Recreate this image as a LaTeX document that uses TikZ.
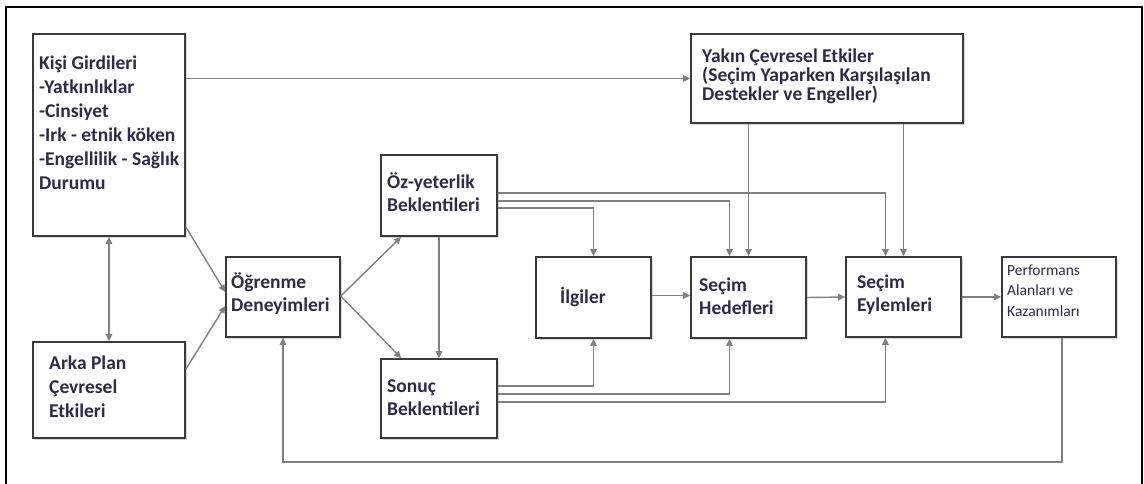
\documentclass[tikz,border=0pt]{standalone}
\usepackage{fontspec}
\setmainfont{Carlito}
\usetikzlibrary{arrows.meta,calc,shadows}
\definecolor{boxline}{HTML}{3A3A3A}
\definecolor{arrowc}{HTML}{808080}
\definecolor{textc}{HTML}{2E2A48}
% fixed line spacing, regardless of tall glyphs
\newcommand{\tightlines}{\setlength{\lineskiplimit}{-20pt}\setlength{\lineskip}{0pt}}
\newcommand{\boxfont}[1]{\fontsize{19.5}{#1}\selectfont\bfseries\tightlines}
\begin{document}
\begin{tikzpicture}[x=1pt,y=-1pt,
  box/.style={draw=boxline,line width=1.6pt,fill=white,inner sep=0pt,
    drop shadow={shadow xshift=2pt,shadow yshift=-2pt,opacity=0.25,fill=black!60}},
  % texts are placed by the baseline of their last line
  txt/.style={anchor=base west,align=left,inner sep=0pt,text=textc,
    font=\boxfont{24}},
  smalltxt/.style={anchor=base west,align=left,inner sep=0pt,text=textc,
    font=\fontsize{15.5}{20.5}\selectfont\tightlines},
  arr/.style={draw=arrowc,line width=1.4pt,-{Triangle[length=7pt,width=6.5pt]}},
  darr/.style={draw=arrowc,line width=1.4pt,{Triangle[length=7pt,width=6.5pt]}-{Triangle[length=7pt,width=6.5pt]}}]
\useasboundingbox (0,0) rectangle (1144,484);
\fill[white] (0,0) rectangle (1144,484);
% outer frame, open at the bottom
\draw[line width=2pt,black] (6,490) -- (6,7) -- (1142,7) -- (1142,490);

% boxes
\node[box,minimum width=152pt,minimum height=202pt] (kisi)  at (109,135) {};
\node[box,minimum width=152pt,minimum height=96pt]  (arka)  at (109,390) {};
\node[box,minimum width=114pt,minimum height=80pt]  (ogr)   at (283,297) {};
\node[box,minimum width=116pt,minimum height=81pt]  (oz)    at (439,195.5) {};
\node[box,minimum width=116pt,minimum height=79pt]  (sonuc) at (439,398.5) {};
\node[box,minimum width=115pt,minimum height=81pt]  (ilgi)  at (593.5,297.5) {};
\node[box,minimum width=115pt,minimum height=81pt]  (sh)    at (748.5,297.5) {};
\node[box,minimum width=115pt,minimum height=80pt]  (se)    at (903.5,297) {};
\node[box,minimum width=114pt,minimum height=80pt]  (perf)  at (1059,297) {};
\node[box,minimum width=272pt,minimum height=89pt]  (yakin) at (827,78.5) {};

% box texts
\node[txt] (kisiT) at (39,189.5) {Kişi Girdileri\\-Yatkınlıklar\\-Cinsiyet\\-Irk - etnik köken\\-Engellilik - Sağlık\\Durumu};
\node[txt] (arkaT) at (49,417.5) {Arka Plan\\Çevresel\\Etkileri};
\node[txt,font=\boxfont{23}] (ogrT) at (231,311.5) {Öğrenme\\Deneyimleri};
\node[txt,font=\boxfont{23}] (ozT) at (387,211.5) {Öz-yeterlik\\Beklentileri};
\node[txt,font=\boxfont{23}] (sonucT) at (387,415.5) {Sonuç\\Beklentileri};
\node[txt] (ilgiT) at (560,303.5) {İlgiler};
\node[txt,font=\boxfont{23}] (shT) at (699,314.5) {Seçim\\Hedefleri};
\node[txt,font=\boxfont{23}] (seT) at (857,311.5) {Seçim\\Eylemleri};
\node[smalltxt] (perfT) at (1007,316) {Performans\\Alanları ve\\Kazanımları};
\node[txt,font=\boxfont{19}] (yakinT) at (702,101) {Yakın Çevresel Etkiler\\(Seçim Yaparken Karşılaşılan\\Destekler ve Engeller)};

% connectors
\draw[arr] (kisi.east |- yakin.west) -- (yakin.west);
\draw[darr] (kisi.south) -- (arka.north);
\draw[arr] ($(kisi.south east)+(0,-10)$) -- ($(ogr.west)+(0,-5)$);
\draw[arr] ($(arka.north east)+(0,28)$) -- ($(ogr.west)+(0,9)$);
\draw[arr] ($(ogr.east)+(0,-1)$) -- ($(oz.south west)+(21,0)$);
\draw[arr] ($(ogr.east)+(0,-1)$) -- ($(sonuc.north west)+(21,0)$);
\draw[arr] (oz.south) -- (sonuc.north);
\draw[arr] ($(oz.east)+(0,12.5)$) -| (ilgi.north);
\draw[arr] ($(oz.east)+(0,5.5)$) -| ($(sh.north)+(-19,0)$);
\draw[arr] ($(oz.east)+(0,-2.5)$) -| ($(se.north)+(-18,0)$);
\draw[arr] (yakin.south -| sh.north) -- (sh.north);
\draw[arr] (yakin.south -| se.north) -- (se.north);
\draw[arr] ($(sonuc.east)+(0,-12.5)$) -| (ilgi.south);
\draw[arr] ($(sonuc.east)+(0,-4.5)$) -| ($(sh.south)+(-19,0)$);
\draw[arr] ($(sonuc.east)+(0,3.5)$) -| ($(se.south)+(-18,0)$);
\draw[arr] ($(ilgi.east)+(0,-2)$) -- ($(sh.west)+(0,-2)$);
\draw[arr] (sh.east) -- (se.west);
\draw[arr] (se.east) -- (perf.west);
\draw[arr] ($(perf.south)+(3,0)$) -- ++(0,124) -| (ogr.south);
\end{tikzpicture}
\end{document}
